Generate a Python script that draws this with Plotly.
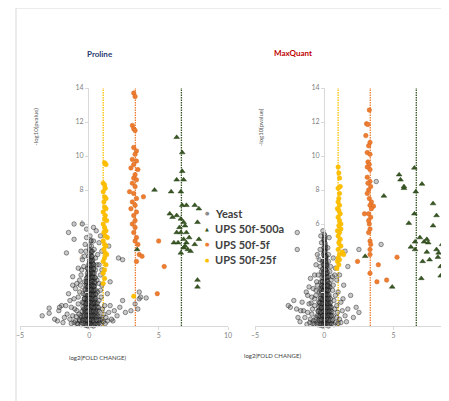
import plotly.graph_objects as go

# ---------------- data ----------------
series_names = ["Yeast", "UPS 50f-500a", "UPS 50f-5f", "UPS 50f-25f"]
ratio_lines = [1.0, 3.32, 6.64]
ratio_colors = ["#ffc000", "#ed7d31", "#375623"]
x_ticks = [-5, 0, 5, 10]
y_ticks = [2, 4, 6, 8, 10, 12, 14]

# Proline panel
proline_yeast = [
    (0.0,0.05),(0.1,0.1),(-0.1,0.15),(0.2,0.2),(-0.2,0.1),(0.05,0.3),(0.3,0.25),(-0.3,0.3),(0.15,0.4),(-0.05,0.45),
    (0.25,0.5),(-0.15,0.55),(0.35,0.6),(0.0,0.65),(-0.25,0.7),(0.1,0.75),(0.4,0.8),(-0.1,0.85),(0.2,0.9),(-0.35,0.95),
    (0.05,1.0),(0.3,1.05),(-0.2,1.1),(0.15,1.15),(0.45,1.2),(-0.05,1.25),(0.25,1.3),(-0.3,1.35),(0.1,1.4),(0.35,1.45),
    (-0.15,1.5),(0.0,1.55),(0.2,1.6),(-0.25,1.65),(0.4,1.7),(0.05,1.75),(-0.1,1.8),(0.3,1.85),(0.15,1.9),(-0.2,1.95),
    (0.0,2.0),(0.25,2.05),(-0.05,2.1),(0.35,2.15),(0.1,2.2),(-0.15,2.25),(0.2,2.3),(0.0,2.35),(0.3,2.4),(-0.1,2.45),
    (0.15,2.5),(0.05,2.55),(0.25,2.6),(-0.05,2.65),(0.1,2.7),(0.3,2.75),(0.0,2.8),(0.2,2.85),(-0.1,2.9),(0.15,2.95),
    (0.05,3.0),(0.25,3.05),(0.0,3.1),(0.1,3.15),(0.2,3.2),(-0.05,3.25),(0.15,3.3),(0.05,3.4),(0.2,3.5),(0.1,3.6),
    (0.0,3.7),(0.15,3.8),(0.05,3.95),(0.2,4.1),(0.1,4.3),(0.0,4.5),(0.15,4.7),(0.1,5.0),(0.05,5.3),
    (0.5,0.3),(0.55,0.6),(-0.45,0.4),(0.6,0.9),(-0.4,1.0),(0.5,1.3),(-0.35,1.6),(0.45,1.9),(-0.3,2.2),(0.4,2.5),
    (-0.2,2.8),(0.35,3.1),(-0.15,3.4),(0.3,3.6),(0.25,3.9),(-0.1,0.0),(0.3,0.0),(-0.3,0.05),(0.6,0.1),(0.7,0.2),
    (0.8,0.35),(-0.55,0.2),(-0.6,0.5),(0.75,0.55),(0.9,0.4),(1.0,0.25),(-0.7,0.3),(0.65,1.1),(0.7,1.5),(-0.5,1.4),
    (0.6,2.0),(-0.45,1.9),(0.55,2.7),(-0.35,2.6),(0.45,3.3),
    (0.02,0.2),(0.12,0.6),(-0.08,1.05),(0.22,1.45),(0.08,1.85),(-0.12,2.3),(0.18,2.65),(0.06,3.2),(0.28,0.7),(-0.22,0.4),
    (0.4,0.1),(0.5,0.5),(-0.4,0.7),(0.45,0.95),(-0.25,1.25),(0.38,1.55),(-0.18,1.7),(0.28,2.2),(-0.22,2.5),(0.42,2.85),
    (0.08,0.95),(0.18,1.25),(-0.02,1.65),(0.12,2.05),(0.22,2.45),(0.02,2.9),(0.12,3.45),(-0.08,3.0),(0.32,3.35),(0.08,3.85),
    (0.0,0.35),(0.2,0.55),(-0.1,0.6),(0.3,0.9),(-0.2,0.85),(0.1,1.2),(0.3,1.3),(-0.1,1.4),(0.25,1.75),(-0.05,2.0),
    (0.15,2.15),(0.35,2.35),(-0.15,2.6),(0.25,2.9),(0.15,3.25),(0.0,3.55),(0.22,3.7),(0.1,4.0),(0.05,4.2),(0.2,4.4),
    (-0.82,0.12),(-0.58,0.08),(-0.41,0.14),(-0.19,0.06),(0.03,0.12),(0.21,0.07),(0.42,0.13),(0.61,0.09),(0.79,0.11),
    (-0.71,0.36),(-0.49,0.33),(-0.31,0.38),(-0.12,0.34),(0.11,0.37),(0.29,0.33),(0.52,0.36),(0.68,0.38),
    (-0.62,0.61),(-0.39,0.58),(-0.21,0.63),(0.02,0.59),(0.19,0.62),(0.41,0.6),(0.62,0.57),
    (-0.52,0.86),(-0.29,0.83),(-0.11,0.88),(0.12,0.84),(0.31,0.87),(0.49,0.83),(0.71,0.86),
    (-0.46,1.12),(-0.24,1.08),(-0.06,1.11),(0.16,1.13),(0.34,1.09),(0.56,1.12),
    (-0.41,1.36),(-0.19,1.33),(0.01,1.37),(0.21,1.34),(0.39,1.38),(0.58,1.35),
    (-0.36,1.61),(-0.14,1.58),(0.06,1.62),(0.26,1.59),(0.44,1.61),
    (-0.31,1.86),(-0.09,1.84),(0.11,1.87),(0.29,1.83),(0.48,1.86),
    (-0.29,2.11),(-0.11,2.08),(0.09,2.12),(0.31,2.09),(0.44,2.13),
    (-0.24,2.36),(-0.06,2.33),(0.16,2.37),(0.34,2.34),
    (-0.21,2.61),(0.01,2.58),(0.19,2.62),(0.39,2.59),
    (-0.16,2.86),(0.06,2.83),(0.24,2.87),(0.41,2.84),
    (-0.14,3.11),(0.04,3.08),(0.26,3.12),
    (-0.09,3.36),(0.11,3.33),(0.29,3.37),
    (-0.04,3.61),(0.14,3.58),(0.31,3.62),
    (0.01,3.86),(0.19,3.83),(-0.04,4.11),(0.16,4.08),(0.06,4.41),(0.19,4.38),(0.01,4.71),(0.14,5.02),
    (-0.9,0.15),(-1.1,0.2),(-1.3,0.15),(-0.95,0.55),(-1.05,1.0),(-0.75,0.7),(-0.8,1.7),(-0.65,2.4),(-0.7,2.7),
    (-1.0,2.2),(-0.55,3.3),(-0.4,3.5),(-0.35,4.1),(-0.25,4.4),(-0.2,5.2),(0.3,5.0),(0.45,4.0),(0.55,3.6),
    (0.7,2.5),(0.8,2.1),(0.85,1.7),(0.95,1.0),(1.05,0.7),(1.15,0.15),(1.3,0.3),(1.5,1.2),(1.7,0.3),(0.9,3.3),
    (-1.7,1.2),(-1.9,0.2),(-2.3,0.3),(-1.4,1.5),(-1.2,2.4),(0.5,5.6),(0.3,5.8),(-0.2,5.7),
    (-1.0,0.3),(-1.2,0.6),(-0.9,0.9),(-1.4,0.4),(-0.8,1.3),(-1.1,1.6),(-0.7,2.0),(-1.3,1.1),(-1.6,0.7),(-1.8,0.5),
    (-2.0,1.2),(-2.2,0.9),(-2.15,1.1),(-2.5,0.4),(-2.9,1.05),(-2.9,0.75),(-3.4,0.6),(-1.5,1.9),(-0.9,2.5),(-0.6,3.0),
    (-0.8,3.4),(-0.5,3.9),(-1.2,2.9),(-1.65,4.3),(-1.5,5.5),(-1.1,5.1),(-1.1,6.0),(-0.5,6.0),(-0.3,4.8),(-0.6,4.4),
    (1.2,0.5),(1.4,0.8),(1.1,1.2),(1.6,0.4),(1.8,0.9),(2.0,0.6),(2.2,1.1),(2.4,1.5),(2.6,0.8),(3.0,0.9),
    (3.3,1.3),(3.6,1.6),(1.3,1.9),(0.9,2.4),(0.8,3.0),(1.5,2.6),(0.7,3.6),(0.6,4.2),(0.35,4.5),(0.7,4.9),
    (1.4,4.7),(2.4,3.9),(2.1,4.0),(0.9,4.4),(0.8,5.3),(3.7,1.7),(4.1,1.65),(3.5,1.0),(3.6,2.0),
]
proline_500a = [
    (6.3,11.1),(6.7,10.2),(6.7,9.1),(6.3,8.6),(6.8,8.6),(4.7,8.0),(5.9,7.9),(6.6,7.9),(6.7,7.1),(7.0,7.1),
    (7.6,7.1),(7.9,6.9),(5.8,6.6),(6.3,6.5),(6.0,6.4),(6.6,6.3),(6.8,6.1),(7.8,6.1),(6.9,5.9),(6.5,5.8),
    (6.3,5.5),(6.6,5.5),(7.0,5.5),(6.8,5.1),(7.9,5.1),(6.1,4.9),(6.4,4.9),(7.0,4.9),(7.6,4.8),(6.8,4.6),
    (7.1,4.5),(7.3,4.4),(6.6,4.3),(6.9,4.7),(7.2,5.2),(3.45,4.5),(7.8,2.7),(7.8,2.3),
]
proline_5f = [
    (3.2,13.7),(3.3,13.5),(3.1,11.8),(3.2,11.6),(3.3,11.5),(3.2,10.5),(3.4,10.3),(3.3,10.1),(3.1,9.8),(3.4,9.7),
    (3.2,9.5),(3.0,9.3),(3.5,9.2),(3.3,8.9),(3.2,8.7),(3.4,8.6),(3.1,8.4),(3.3,8.2),(2.9,7.9),(3.2,7.8),
    (3.9,7.6),(3.4,7.5),(3.1,7.3),(3.3,7.1),(3.0,6.9),(3.4,6.7),(3.2,6.5),(3.3,6.2),(3.1,6.0),(3.3,5.8),
    (3.2,5.5),(3.4,5.2),(3.3,5.0),(3.5,4.8),(3.6,4.2),(3.8,4.1),(3.4,3.8),(5.0,5.0),(5.4,3.5),(4.9,1.9),
]
proline_25f = [
    (1.1,9.6),(1.2,9.5),(1.0,8.4),(1.1,8.3),(1.15,8.1),(1.0,7.9),(1.1,7.6),(1.2,7.5),(1.05,7.3),(1.1,7.0),
    (1.2,6.9),(1.0,6.7),(1.15,6.5),(1.1,6.3),(1.25,6.2),(1.0,6.0),(1.1,5.8),(1.2,5.6),(1.05,5.5),(1.15,5.3),
    (1.3,5.2),(1.0,5.0),(1.1,4.8),(1.2,4.7),(1.05,4.5),(1.15,4.3),(1.25,4.2),(1.1,4.0),(1.0,3.8),(1.2,3.6),
    (1.1,3.3),(1.0,3.1),(1.1,2.8),(1.0,2.5),(3.2,1.75),
]

# MaxQuant panel
maxquant_yeast = [
    (0.0,0.05),(0.1,0.1),(-0.1,0.15),(0.2,0.2),(-0.2,0.1),(0.05,0.3),(0.3,0.25),(-0.3,0.3),(0.15,0.4),(-0.05,0.45),
    (0.25,0.5),(-0.15,0.55),(0.35,0.6),(0.0,0.65),(-0.25,0.7),(0.1,0.75),(0.4,0.8),(-0.1,0.85),(0.2,0.9),(-0.35,0.95),
    (0.05,1.0),(0.3,1.05),(-0.2,1.1),(0.15,1.15),(0.4,1.2),(-0.05,1.25),(0.25,1.3),(-0.3,1.35),(0.1,1.4),(0.3,1.45),
    (-0.15,1.5),(0.0,1.55),(0.2,1.6),(-0.25,1.65),(0.35,1.7),(0.05,1.75),(-0.1,1.8),(0.25,1.85),(0.15,1.9),(-0.2,1.95),
    (0.0,2.0),(0.2,2.05),(-0.05,2.1),(0.3,2.15),(0.1,2.2),(-0.15,2.25),(0.15,2.3),(0.0,2.35),(0.25,2.4),(-0.1,2.45),
    (0.1,2.5),(0.05,2.6),(0.2,2.7),(-0.05,2.8),(0.1,2.9),(0.0,3.0),(0.15,3.1),(-0.05,3.2),(0.1,3.3),(0.0,3.4),
    (0.05,3.5),(0.12,3.6),(-0.02,3.7),(0.08,3.8),(0.0,3.9),(0.05,4.0),(0.1,4.15),(-0.02,4.3),(0.04,4.45),(0.0,4.6),
    (0.06,4.75),(0.02,4.9),(-0.03,5.05),(0.03,5.2),(0.0,5.4),(-0.1,5.6),
    (-0.5,0.2),(-0.6,0.5),(0.55,0.3),(0.65,0.6),(-0.45,0.9),(0.5,1.1),(-0.4,1.4),(0.45,1.6),(-0.35,2.0),(0.4,2.3),
    (-0.25,2.6),(0.3,2.9),(-0.2,3.2),(0.2,3.5),(-0.15,3.8),(0.15,4.1),(0.8,0.2),(-0.8,0.3),(0.9,0.5),(-0.9,0.7),
    (0.75,1.0),(-0.7,1.2),(0.7,1.5),(-0.6,1.8),(0.6,2.1),(-0.5,2.4),(0.5,2.7),(0.4,3.2),(-0.3,3.5),(0.3,3.8),
    (-0.1,0.0),(0.3,0.0),(-0.3,0.05),
    (0.02,0.2),(0.12,0.6),(-0.08,1.05),(0.18,1.45),(0.08,1.85),(-0.12,2.3),(0.14,2.65),(0.04,3.15),(0.06,3.75),(-0.06,4.2),
    (0.1,4.55),(0.0,5.0),(0.28,0.7),(-0.22,0.4),
    (0.4,0.1),(0.5,0.6),(-0.4,0.6),(0.45,0.9),(-0.3,1.2),(0.35,1.3),(-0.2,1.55),(0.25,2.25),(-0.25,2.2),(0.35,2.5),
    (0.08,0.95),(0.18,1.25),(-0.02,1.65),(0.12,2.05),(0.2,2.45),(0.02,2.9),(0.1,3.45),(-0.1,3.0),(0.22,3.15),(0.1,3.95),
    (0.0,0.35),(0.2,0.55),(-0.1,0.6),(0.3,0.85),(-0.2,0.8),(0.1,1.2),(0.3,1.2),(-0.1,1.4),(0.22,1.75),(-0.05,2.0),
    (0.15,2.15),(0.3,2.35),(-0.12,2.6),(0.2,2.9),(0.12,3.25),(0.0,3.55),(0.15,3.7),(0.06,4.05),(0.02,4.35),(0.08,4.65),
    (-0.71,0.11),(-0.49,0.08),(-0.31,0.13),(-0.09,0.07),(0.11,0.12),(0.29,0.09),(0.51,0.13),(0.69,0.08),
    (-0.61,0.36),(-0.39,0.33),(-0.21,0.37),(0.01,0.34),(0.19,0.38),(0.41,0.33),(0.59,0.36),
    (-0.51,0.61),(-0.29,0.58),(-0.11,0.62),(0.09,0.59),(0.31,0.63),(0.49,0.6),
    (-0.44,0.86),(-0.26,0.83),(-0.04,0.87),(0.14,0.84),(0.36,0.88),(0.54,0.85),
    (-0.39,1.11),(-0.21,1.08),(0.01,1.12),(0.19,1.09),(0.41,1.11),
    (-0.34,1.36),(-0.16,1.33),(0.06,1.37),(0.24,1.34),(0.44,1.36),
    (-0.29,1.61),(-0.11,1.58),(0.09,1.62),(0.29,1.59),
    (-0.26,1.86),(-0.04,1.83),(0.14,1.87),(0.34,1.84),
    (-0.24,2.11),(-0.06,2.08),(0.16,2.12),(0.29,2.09),
    (-0.19,2.36),(0.01,2.33),(0.19,2.37),
    (-0.14,2.61),(0.04,2.58),(0.24,2.62),
    (-0.16,2.86),(0.06,2.83),(0.19,2.87),
    (-0.09,3.11),(0.11,3.08),(-0.11,3.36),(0.09,3.33),(-0.04,3.61),(0.13,3.58),(-0.06,3.86),(0.11,3.83),
    (0.01,4.11),(0.09,4.08),(0.05,4.36),(-0.02,4.61),(0.06,4.86),(0.0,5.11),(0.04,5.31),
    (-0.85,0.15),(-1.05,0.2),(-1.25,0.1),(-0.85,1.0),(-0.95,1.35),(-0.7,1.6),(-0.6,2.1),(-0.55,2.6),(-0.45,3.0),
    (-0.35,3.9),(-0.3,4.5),(-0.2,4.9),(0.25,4.6),(0.3,4.2),(0.45,3.5),(0.6,2.9),(0.65,2.4),(0.8,1.8),(0.9,1.2),
    (0.95,0.8),(1.0,0.15),(1.2,0.2),(1.35,1.6),(1.6,0.25),(0.75,3.0),(-1.5,0.9),(-1.75,0.25),(-2.0,1.0),
    (-1.2,1.8),(-1.1,2.3),(0.35,5.2),(-0.25,5.3),
    (-1.0,0.4),(-1.2,0.8),(-1.1,1.3),(-1.4,0.5),(-0.9,1.7),(-1.7,0.9),(-1.9,0.5),(-2.2,1.5),(-2.45,1.1),(-2.6,1.2),
    (-1.6,1.4),(-0.8,2.2),(-1.0,2.8),(-0.7,3.0),(-1.3,2.0),(-1.95,5.5),(-1.95,4.5),(-0.6,3.6),(-0.5,4.2),
    (1.1,0.4),(1.3,0.9),(1.5,0.6),(1.2,1.4),(1.7,1.0),(2.1,0.5),(2.3,1.1),(2.5,0.8),(1.0,2.0),(1.4,2.4),
    (0.9,2.7),(1.1,3.0),(1.7,3.5),(0.65,4.0),(1.5,4.4),(2.5,4.5),(4.1,4.8),(3.75,8.5),(1.9,1.8),(0.8,3.4),
]
maxquant_500a = [
    (8.8,12.1),(6.5,9.3),(5.4,8.9),(5.5,8.6),(5.75,8.1),(7.05,8.35),(6.6,7.9),(4.3,7.65),(5.75,8.2),(7.85,7.2),
    (8.1,6.5),(6.5,6.6),(6.1,6.05),(7.85,5.9),(7.2,4.95),(7.4,5.1),(7.5,4.9),(6.55,4.95),(6.25,4.65),(6.55,4.5),
    (7.4,4.35),(8.5,4.8),(8.1,4.5),(8.85,4.4),(8.25,4.3),(8.2,4.05),(7.1,3.8),(8.4,3.5),(8.4,2.95),(7.0,2.8),
    (4.9,2.3),(2.95,4.1),(6.9,5.2),(7.6,3.9),
]
maxquant_5f = [
    (3.25,12.7),(3.05,11.9),(3.15,11.85),(3.0,11.2),(3.3,10.8),(3.2,10.6),(3.1,10.2),(3.3,10.1),(3.15,9.65),(3.25,9.5),
    (3.1,9.35),(3.3,9.2),(3.1,8.75),(3.3,8.5),(3.15,8.4),(3.35,8.2),(3.2,8.0),(3.1,7.8),(3.25,7.5),(3.4,7.3),
    (3.3,7.1),(3.55,7.05),(2.9,6.6),(3.2,6.6),(3.35,6.4),(3.25,6.0),(3.3,5.7),(3.2,5.5),(3.3,5.0),(3.3,4.5),
    (3.35,4.8),(3.2,6.2),(3.4,6.9),(3.3,4.2),(3.9,3.6),(2.4,3.8),(5.25,4.05),(3.3,3.1),(3.8,2.6),(4.5,2.7),
]
maxquant_25f = [
    (1.0,9.35),(1.05,9.0),(1.1,8.7),(1.15,8.2),(1.0,8.1),(1.05,7.5),(1.1,7.1),(0.95,6.9),(1.05,6.8),(1.15,6.6),
    (1.0,6.4),(1.1,6.2),(1.2,6.0),(1.05,5.9),(0.95,5.6),(1.1,5.5),(1.0,5.3),(1.15,5.1),(1.05,4.9),(1.2,4.7),
    (1.0,4.5),(1.3,4.35),(1.4,4.2),(1.1,4.2),(1.0,4.0),(0.95,3.8),(1.05,3.6),(0.9,3.4),(1.1,3.9),(1.2,5.7),
    (1.1,7.8),(1.0,7.3),
]

# ---------------- figure ----------------
# page body has an 8px margin, so the figure is 8px smaller than the window
OFF = 8
W, H = 449 - OFF, 401 - OFF
FONT = "Lato, 'Open Sans', sans-serif"

def px(v):
    return (v - OFF) / W

def py(v):
    return 1 - (v - OFF) / H

series_colors = {"Yeast": "#8c8c8c", "UPS 50f-500a": "#375623",
                 "UPS 50f-5f": "#ed7d31", "UPS 50f-25f": "#ffc000"}
styles = {
    "Yeast": dict(symbol="circle", size=4.5, color="rgba(100,100,100,0.35)",
                  line=dict(color="rgba(10,10,10,0.6)", width=0.7)),
    "UPS 50f-500a": dict(symbol="triangle-up", size=5, color="#375623",
                         line=dict(color="#2a4419", width=0.5)),
    "UPS 50f-5f": dict(symbol="circle", size=4.5, color="#ed7d31",
                       line=dict(color="#d9691f", width=0.5)),
    "UPS 50f-25f": dict(symbol="circle", size=4.5, color="#ffc000",
                        line=dict(color="#f0b400", width=0.5)),
}

panels = [
    ("x", "y", [proline_yeast, proline_500a, proline_5f, proline_25f]),
    ("x2", "y2", [maxquant_yeast, maxquant_500a, maxquant_5f, maxquant_25f]),
]

fig = go.Figure()
for xa, ya, sets in panels:
    for xv, col in zip(ratio_lines, ratio_colors):
        fig.add_trace(go.Scatter(x=[xv, xv], y=[0, 14], mode="lines",
                                 line=dict(color=col, width=1.3, dash="1.5px,1px"),
                                 xaxis=xa, yaxis=ya, showlegend=False, hoverinfo="skip"))
    for name, pts in zip(series_names, sets):
        fig.add_trace(go.Scatter(
            x=[p[0] for p in pts], y=[p[1] for p in pts], mode="markers",
            name=name, showlegend=False,
            marker=styles[name], xaxis=xa, yaxis=ya, cliponaxis=False))

tickfont = dict(family=FONT, size=7, color="#7f7f7f")
common_x = dict(tickvals=x_ticks, showline=True, linecolor="#d9d9d9", linewidth=1,
                ticks="outside", ticklen=3, tickcolor="#d9d9d9", showgrid=False,
                zeroline=False, tickfont=tickfont, automargin=False)
common_y = dict(range=[0, 14], tickvals=y_ticks, showline=True, linecolor="#d9d9d9",
                linewidth=1, ticks="outside", ticklen=3, tickcolor="#d9d9d9",
                showgrid=False, zeroline=False, tickfont=tickfont, automargin=False,
                domain=[py(326), py(88)], anchor="free")

# hand-drawn legend (Excel-like compact entries)
legend_glyphs = {"Yeast": "●", "UPS 50f-500a": "▲", "UPS 50f-5f": "●", "UPS 50f-25f": "●"}
legend_rows = [213, 228.5, 244, 259.5]
legend_ann = []
for name, ry in zip(series_names, legend_rows):
    legend_ann.append(dict(text=legend_glyphs[name], x=px(207), y=py(ry), xref="paper", yref="paper",
                           showarrow=False, font=dict(family="DejaVu Sans", size=5,
                                                      color=series_colors[name])))
    legend_ann.append(dict(text="<b>" + name + "</b>", x=px(213), y=py(ry), xref="paper", yref="paper",
                           xanchor="left", showarrow=False,
                           font=dict(family=FONT, size=11, color="#404040")))

fig.update_layout(
    template="none",
    width=W, height=H, margin=dict(l=0, r=0, t=0, b=0, pad=0, autoexpand=False),
    paper_bgcolor="white", plot_bgcolor="rgba(0,0,0,0)",
    font=dict(family=FONT),
    xaxis=dict(domain=[px(20), px(228)], range=[-5, 10], anchor="y", **common_x),
    xaxis2=dict(domain=[px(255), 1.0], range=[-5, 9.0], anchor="y2", **common_x),
    yaxis=dict(position=px(88), **common_y),
    yaxis2=dict(position=px(324), **common_y),
    showlegend=False,
    shapes=[
        dict(type="line", xref="paper", yref="paper", x0=px(16), x1=1.0, y0=py(8), y1=py(8),
             line=dict(color="#d9d9d9", width=1)),
        dict(type="line", xref="paper", yref="paper", x0=px(16), x1=px(16), y0=py(8), y1=0,
             line=dict(color="#d9d9d9", width=1)),
    ],
    annotations=[
        dict(text="<b>Proline</b>", x=px(85), y=py(47), xref="paper", yref="paper",
             showarrow=False, font=dict(family=FONT, size=8, color="#1f3a6e")),
        dict(text="<b>MaxQuant</b>", x=px(314), y=py(46), xref="paper", yref="paper",
             showarrow=False, font=dict(family=FONT, size=8, color="#c00000")),
        dict(text="-log10(pvalue)", x=px(29), y=py(106), xref="paper", yref="paper",
             textangle=-90, showarrow=False, font=dict(family=FONT, size=6, color="#595959")),
        dict(text="-log10(pvalue)", x=px(260), y=py(106), xref="paper", yref="paper",
             textangle=-90, showarrow=False, font=dict(family=FONT, size=6, color="#595959")),
        dict(text="log2(FOLD CHANGE)", x=px(67), y=py(363), xref="paper", yref="paper",
             showarrow=False, font=dict(family=FONT, size=6, color="#404040")),
        dict(text="log2(FOLD CHANGE)", x=px(303), y=py(361), xref="paper", yref="paper",
             showarrow=False, font=dict(family=FONT, size=6, color="#404040")),
    ] + legend_ann,
)

fig.write_html("out.html")
